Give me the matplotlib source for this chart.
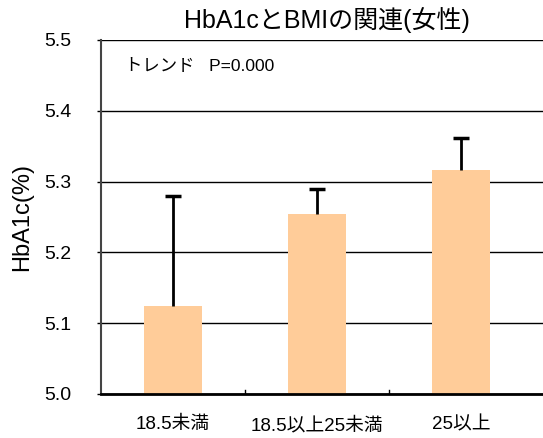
import matplotlib.pyplot as plt
import numpy as np

plt.rcParams['font.family'] = ['Liberation Sans', 'Noto Sans CJK JP']

categories = ['18.5未満', '18.5以上25未満', '25以上']
means = [5.124, 5.254, 5.316]
upper_err = [0.156, 0.035, 0.046]
yticks = [5.0, 5.1, 5.2, 5.3, 5.4, 5.5]

fig = plt.figure(figsize=(5.43, 4.38), dpi=100)
ax = fig.add_axes([101 / 543, 44 / 438, 442 / 543, 354 / 438])

x = np.arange(len(categories))
tops = np.array(means) + np.array(upper_err)
ax.bar(x, means, width=0.4, color='#FFCC99', zorder=2)
# upper-only error bars with a cap at the top
ax.vlines(x, means, tops, color='black', linewidth=2, zorder=3)
ax.plot(x, tops, linestyle='none', marker='_', markersize=12,
        markeredgewidth=2.5, color='black', zorder=3)

ax.set_ylim(5.0, 5.5)
ax.set_xlim(-0.5, -0.5 + 442 / 144)
ax.set_yticks(yticks)
ax.set_yticklabels([f'{v:.1f}' for v in yticks], fontsize=14)
ax.yaxis.grid(True, color='black', linewidth=1, zorder=0)
ax.tick_params(axis='y', length=3, width=1, pad=18)

ax.set_xticks(x)
ax.set_xticklabels(categories, fontsize=13.5)
ax.tick_params(axis='x', length=0, pad=16)
for pos in [0.5, 1.5]:
    ax.plot([pos, pos], [5.0, 5.006], color='black', linewidth=1, zorder=3)

for side in ['top', 'right']:
    ax.spines[side].set_visible(False)
ax.spines['left'].set_linewidth(1.5)
ax.spines['left'].set_color('#444444')
ax.spines['bottom'].set_linewidth(2)

ax.set_ylabel('HbA1c(%)', fontsize=17, labelpad=8)
ax.text(0.054, 0.927, 'トレンド   P=0.000', transform=ax.transAxes, fontsize=12.5,
        va='center', ha='left')
fig.text(0.602, 0.954, 'HbA1cとBMIの関連(女性)', fontsize=18, ha='center', va='center')

plt.savefig('out.png', dpi=100)
